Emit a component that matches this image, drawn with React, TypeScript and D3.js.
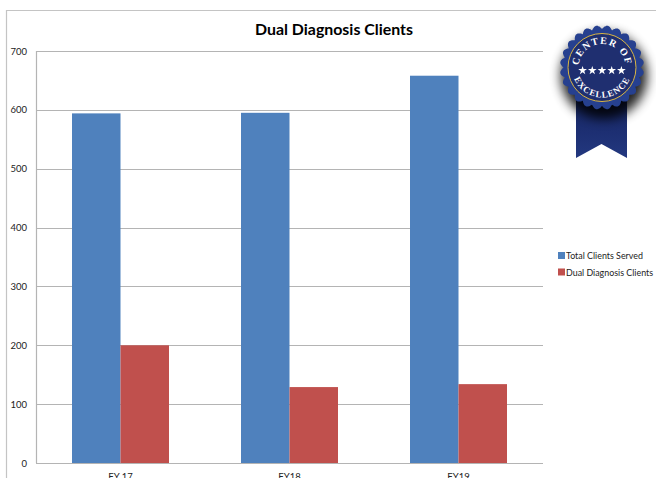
import React from "react";
import * as d3 from "d3";

const categories = ["FY 17", "FY18", "FY19"];
const seriesNames = ["Total Clients Served", "Dual Diagnosis Clients"];
const totalClients = [594, 595, 658];
const dualDiagnosis = [200, 129, 134];
const yTicks = [0, 100, 200, 300, 400, 500, 600, 700];
const colors = ["#4f81bd", "#c0504d"];
const title = "Dual Diagnosis Clients";

const W = 656, H = 478;
const plot = { l: 36, r: 543, t: 51, b: 463 };
const font = "Lato, 'Open Sans', sans-serif";

function scallopPath(r: number, bumps: number, amp: number) {
  const n = bumps * 12;
  const line = d3.lineRadial<number>()
    .angle((i) => (i / n) * 2 * Math.PI)
    .radius((i) => r + amp * Math.abs(Math.sin((i / n) * Math.PI * bumps)))
    .curve(d3.curveCardinalClosed);
  return line(d3.range(n)) as string;
}

function arc(cx: number, cy: number, r: number, deg: number, sweep: 0 | 1) {
  const a = (deg * Math.PI) / 180;
  const dx = r * Math.sin(a);
  const dy = r * Math.cos(a) * (sweep ? -1 : 1);
  const large = deg > 90 ? 1 : 0;
  return `M ${cx - dx} ${cy + dy} A ${r} ${r} 0 ${large} ${sweep} ${cx + dx} ${cy + dy}`;
}

export default function App() {
  const x = d3.scaleBand<string>().domain(categories).range([plot.l, plot.r]);
  const y = d3.scaleLinear().domain([0, 700]).range([plot.b, plot.t]);
  const bw = 48.5;
  const cx = 602, cy = 67.5;
  const seal = scallopPath(38.5, 24, 3.5);
  const stars = [-2, -1, 0, 1, 2];
  const grid = "#b4b4b4";
  const star = d3.symbol(d3.symbolStar, 24)() as string;

  return (
    <svg width={W} height={H} viewBox={`0 0 ${W} ${H}`}
      style={{ position: "absolute", left: 0, top: 0, background: "#fff" }} fontFamily={font}>
      <defs>
        <filter id="blurShadow" x="-50%" y="-50%" width="200%" height="200%">
          <feGaussianBlur stdDeviation="5" />
        </filter>
        <linearGradient id="ribbon" x1="0" y1="0" x2="0" y2="1">
          <stop offset="0" stopColor="#16255f" />
          <stop offset="0.6" stopColor="#1d2f73" />
          <stop offset="1" stopColor="#23387f" />
        </linearGradient>
        <path id="arcTop" d={arc(cx, cy, 23.5, 115, 1)} />
        <path id="arcBottom" d={arc(cx, cy, 30, 105, 0)} />
      </defs>

      <path d={`M 6.5 ${H} V 10.5 H ${W}`} fill="none" stroke="#c4c4c4" strokeWidth={1.2} />

      {yTicks.filter((t) => t > 0).map((t) => (
        <line key={t} x1={plot.l} x2={plot.r} y1={Math.round(y(t)) + 0.5} y2={Math.round(y(t)) + 0.5}
          stroke={grid} strokeWidth={1.2} />
      ))}
      <line x1={plot.l + 0.5} x2={plot.l + 0.5} y1={plot.t} y2={plot.b} stroke={grid} strokeWidth={1.2} />
      <line x1={plot.l} x2={plot.r} y1={plot.b + 0.5} y2={plot.b + 0.5} stroke={grid} strokeWidth={1.2} />

      {yTicks.map((t) => (
        <text key={t} x={27} y={y(t) + 3.5} textAnchor="end" fontSize={9.5} fill="#222">{t}</text>
      ))}

      {categories.map((c, i) => {
        const center = (x(c) as number) + x.bandwidth() / 2;
        return (
          <g key={c}>
            <rect x={center - bw} width={bw} y={y(totalClients[i])} height={y(0) - y(totalClients[i])} fill={colors[0]} />
            <rect x={center} width={bw} y={y(dualDiagnosis[i])} height={y(0) - y(dualDiagnosis[i])} fill={colors[1]} />
            <text x={center} y={480} textAnchor="middle" fontSize={9.5} fill="#222">{c}</text>
          </g>
        );
      })}

      <text x={334} y={35} textAnchor="middle" fontSize={15.9} fontWeight={700} fill="#000">{title}</text>

      {seriesNames.map((s, i) => (
        <g key={s}>
          <rect x={558} y={252 + i * 16.5} width={7} height={7} fill={colors[i]} />
          <text x={566} y={259 + i * 16.5} fontSize={8.9} fill="#222">{s}</text>
        </g>
      ))}

      <polygon points="576,95 627,95 627,158 601.5,144 576,158" fill="url(#ribbon)" />
      <path d={seal} transform={`translate(${cx + 2},${cy + 8}) scale(1.06)`} fill="#000" opacity={0.85} filter="url(#blurShadow)" />
      <path d={seal} transform={`translate(${cx},${cy})`} fill="#26408f" />
      <circle cx={cx} cy={cy} r={34} fill="#1f2f70" stroke="#d9b544" strokeWidth={1} />
      <text fontFamily="'Liberation Serif', serif" fontSize={10} fontWeight={700} fill="#fff" letterSpacing={1.3}>
        <textPath href="#arcTop" startOffset="50%" textAnchor="middle">CENTER OF</textPath>
      </text>
      <text fontFamily="'Liberation Serif', serif" fontSize={9} fontWeight={700} fill="#fff" letterSpacing={0.9}>
        <textPath href="#arcBottom" startOffset="50%" textAnchor="middle">EXCELLENCE</textPath>
      </text>
      {stars.map((k) => (
        <path key={k} d={star} transform={`translate(${cx + k * 9.7},${cy + 3})`} fill="#fff" />
      ))}
    </svg>
  );
}
